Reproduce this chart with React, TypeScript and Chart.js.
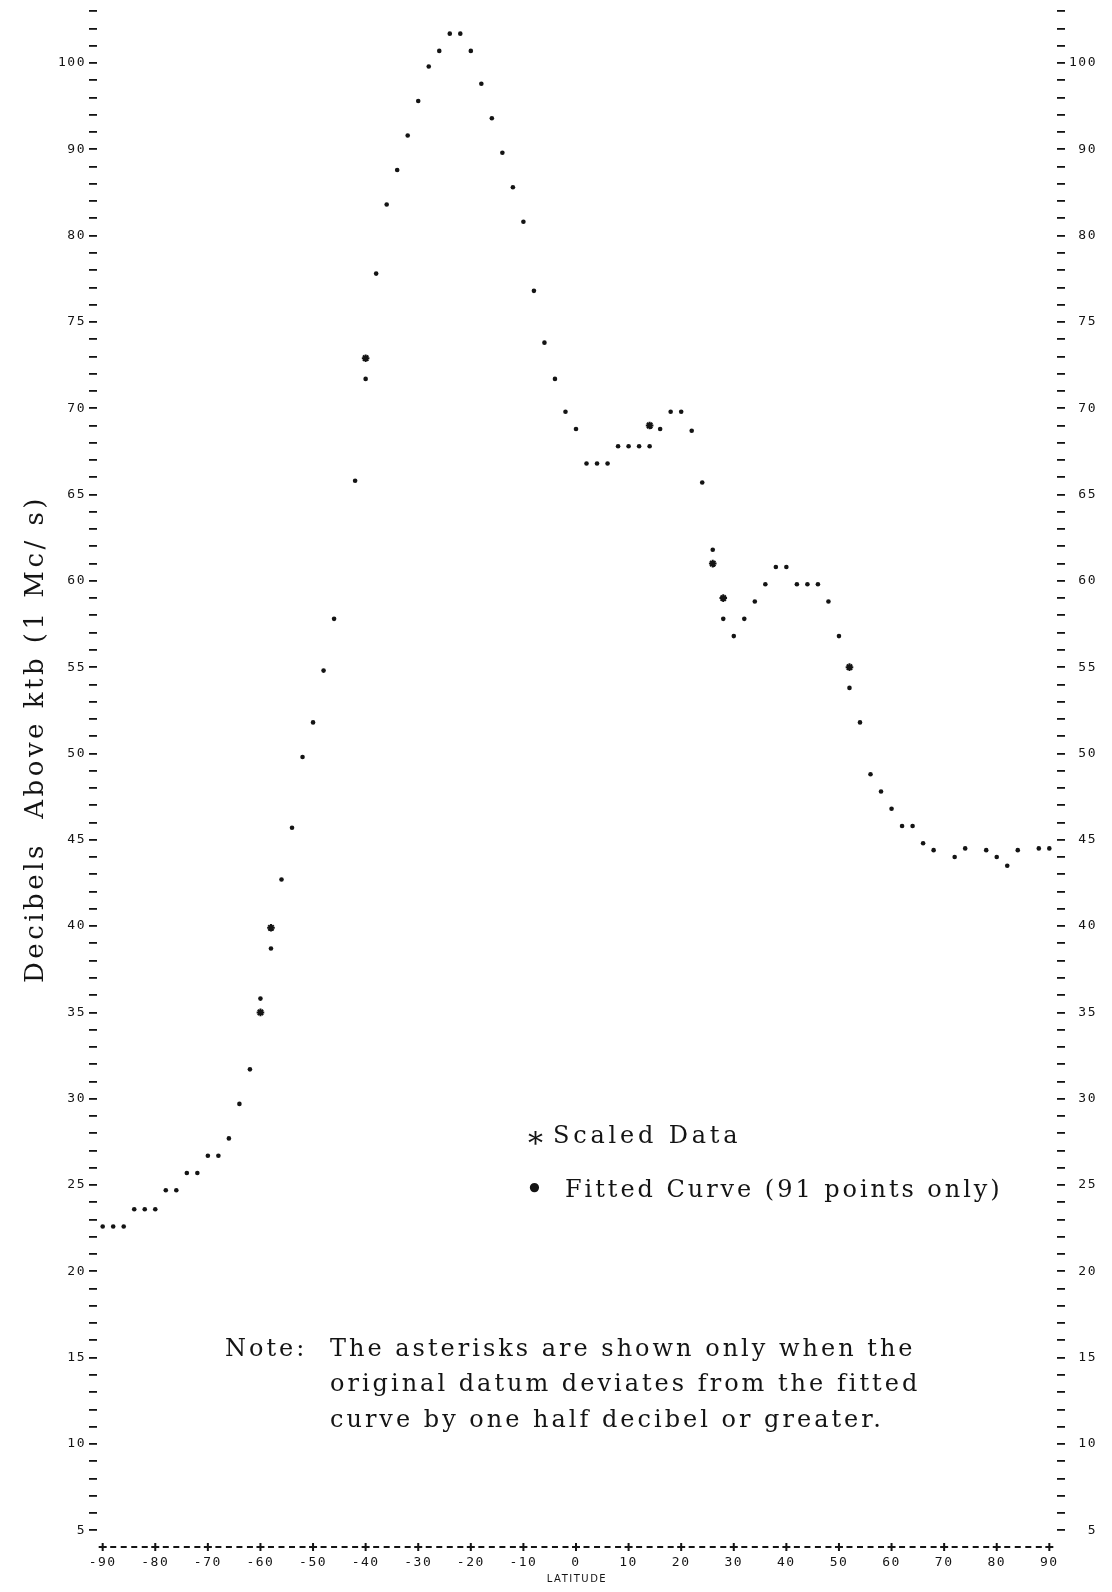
import React, { useEffect, useRef } from 'react';
import { Chart, registerables } from 'chart.js';

Chart.register(...registerables);

// Latitude of each fitted point (every 2 degrees)
const latitude = [
  -90, -88, -86, -84, -82, -80, -78, -76, -74, -72,
  -70, -68, -66, -64, -62, -60, -58, -56, -54, -52,
  -50, -48, -46, -44, -42, -40, -38, -36, -34, -32,
  -30, -28, -26, -24, -22, -20, -18, -16, -14, -12,
  -10, -8, -6, -4, -2, 0, 2, 4, 6, 8,
  10, 12, 14, 16, 18, 20, 22, 24, 26, 28,
  30, 32, 34, 36, 38, 40, 42, 44, 46, 48,
  50, 52, 54, 56, 58, 60, 62, 64, 66, 68,
  70, 72, 74, 76, 78, 80, 82, 84, 86, 88,
  90,
];

// Fitted curve values (null where no dot is printed in the reference)
const fittedCurve: (number | null)[] = [
  22.6, 22.6, 22.6, 23.6, 23.6, 23.6, 24.7, 24.7, 25.7, 25.7,
  26.7, 26.7, 27.7, 29.7, 31.7, 35.8, 38.7, 42.7, 45.7, 49.8,
  51.8, 54.8, 57.8, null, 65.8, 71.7, 77.8, 81.8, 83.8, 85.8,
  87.8, 89.8, 90.7, 91.7, 91.7, 90.7, 88.8, 86.8, 84.8, 82.8,
  80.8, 76.8, 73.8, 71.7, 69.8, 68.8, 66.8, 66.8, 66.8, 67.8,
  67.8, 67.8, 67.8, 68.8, 69.8, 69.8, 68.7, 65.7, 61.8, 57.8,
  56.8, 57.8, 58.8, 59.8, 60.8, 60.8, 59.8, 59.8, 59.8, 58.8,
  56.8, 53.8, 51.8, 48.8, 47.8, 46.8, 45.8, 45.8, 44.8, 44.4,
  null, 44.0, 44.5, null, 44.4, 44.0, 43.5, 44.4, null, 44.5,
  44.5,
];

// Scaled data (asterisks)
const scaledLatitude = [-60, -58, -40, 14, 26, 28, 52];
const scaledData = [35.0, 39.9, 72.9, 69.0, 61.0, 59.0, 55.0];

// Axis labels as printed
const xTickValues = [-90, -80, -70, -60, -50, -40, -30, -20, -10, 0, 10, 20, 30, 40, 50, 60, 70, 80, 90];
const xTickLabels = ['-90', '-80', '-70', '-60', '-50', '-40', '-30', '-20', '-10', '0', '10', '20', '30', '40', '50', '60', '70', '80', '90'];
const yLabelValues = [5, 10, 15, 20, 25, 30, 35, 40, 45, 50, 55, 60, 65, 70, 75, 80, 85, 90];
const yLabelTexts = ['5', '10', '15', '20', '25', '30', '35', '40', '45', '50', '55', '60', '65', '70', '75', '80', '90', '100'];

const INK = '#141414';
const MONO = '"DejaVu Sans Mono", monospace';
const SERIF = '"DejaVu Serif", serif';

const xLabel = (v: number) => {
  const i = xTickValues.indexOf(v);
  return i >= 0 ? xTickLabels[i] : '';
};
const yLabel = (v: number) => {
  const i = yLabelValues.indexOf(v);
  return i >= 0 ? yLabelTexts[i] : '';
};

// Line-printer look: spaced tick characters, dashed "+----+" x axis
const printerAxis = {
  id: 'printerAxis',
  beforeDraw(chart: any) {
    try {
      chart.ctx.letterSpacing = '1.5px';
    } catch (e) {
      /* ignore */
    }
  },
  afterDraw(chart: any) {
    const { ctx, chartArea } = chart;
    try {
      ctx.letterSpacing = '0px';
    } catch (e) {
      /* ignore */
    }
    const x = chart.scales.x;
    const y = chartArea.bottom;
    const first = x.getPixelForValue(xTickValues[0]);
    const last = x.getPixelForValue(xTickValues[xTickValues.length - 1]);
    const period = x.getPixelForValue(2) - x.getPixelForValue(0);
    ctx.save();
    ctx.strokeStyle = INK;
    ctx.lineWidth = 1.8;
    ctx.setLineDash([6, period - 6]);
    ctx.beginPath();
    ctx.moveTo(first - 3, y);
    ctx.lineTo(last + 3, y);
    ctx.stroke();
    ctx.setLineDash([]);
    ctx.lineWidth = 2;
    xTickValues.forEach((v) => {
      const px = x.getPixelForValue(v);
      ctx.beginPath();
      ctx.moveTo(px, y - 4);
      ctx.lineTo(px, y + 4);
      ctx.moveTo(px - 4, y);
      ctx.lineTo(px + 4, y);
      ctx.stroke();
    });
    ctx.restore();
  },
};

const yAxisBase = (position: 'left' | 'right', width: number) => ({
  type: 'linear' as const,
  position,
  min: 4.03,
  max: 93.65,
  border: { display: false },
  grid: {
    display: true,
    drawOnChartArea: false,
    drawTicks: true,
    tickLength: 8,
    color: INK,
    lineWidth: 1.8,
  },
  ticks: {
    stepSize: 1,
    includeBounds: false,
    autoSkip: false,
    padding: 3,
    color: INK,
    font: { family: MONO, size: 13 },
    crossAlign: position === 'right' ? ('far' as const) : ('near' as const),
    callback: (v: any) => yLabel(Number(v)),
  },
  afterFit: (s: any) => {
    s.width = width;
    s.paddingTop = 0;
    s.paddingBottom = 0;
  },
});

const textStyle = (size: number, spacing: number): React.CSSProperties => ({
  position: 'absolute',
  fontFamily: SERIF,
  fontSize: size,
  lineHeight: 1,
  letterSpacing: spacing,
  whiteSpace: 'pre',
  color: INK,
  transform: 'translateY(-50%)',
});

export default function App() {
  const ref = useRef<HTMLCanvasElement>(null);

  useEffect(() => {
    if (!ref.current) return;
    const fittedPoints = latitude
      .map((x, i) => ({ x, y: fittedCurve[i] }))
      .filter((p) => p.y !== null) as { x: number; y: number }[];
    const scaledPoints = scaledLatitude.map((x, i) => ({ x, y: scaledData[i] }));

    const chart = new Chart(ref.current, {
      type: 'scatter',
      data: {
        datasets: [
          {
            label: 'Scaled Data',
            data: scaledPoints,
            pointStyle: 'star',
            pointRadius: 3.8,
            borderColor: INK,
            backgroundColor: INK,
            borderWidth: 2,
            showLine: false,
            order: 0,
          },
          {
            label: 'Fitted Curve (91 points only)',
            data: fittedPoints,
            pointStyle: 'circle',
            pointRadius: 2.3,
            backgroundColor: INK,
            borderWidth: 0,
            showLine: false,
            order: 1,
          },
        ],
      },
      options: {
        responsive: false,
        animation: false,
        devicePixelRatio: 1,
        layout: { autoPadding: false, padding: { left: 0, right: 15, top: 0, bottom: 0 } },
        plugins: {
          legend: { display: false },
          tooltip: { enabled: false },
        },
        scales: {
          x: {
            type: 'linear',
            min: -91.08,
            max: 91.46,
            border: { display: false },
            grid: { display: false, drawTicks: false },
            ticks: {
              stepSize: 10,
              includeBounds: false,
              autoSkip: false,
              maxRotation: 0,
              padding: 8,
              color: INK,
              font: { family: MONO, size: 13 },
              callback: (v: any) => xLabel(Number(v)),
            },
            title: {
              display: true,
              text: 'LATITUDE',
              color: INK,
              font: { family: '"DejaVu Sans", sans-serif', size: 10 },
              padding: { top: 0, bottom: 7 },
            },
            afterFit: (s: any) => {
              s.height = 45;
            },
          },
          y: yAxisBase('left', 97),
          y2: yAxisBase('right', 40),
        } as any,
      },
      plugins: [printerAxis],
    });
    return () => chart.destroy();
  }, []);

  return (
    <div
      style={{
        position: 'absolute',
        left: 0,
        top: 0,
        width: 1112,
        height: 1592,
        background: '#fff',
        overflow: 'hidden',
      }}
    >
      <canvas ref={ref} width={1112} height={1592} style={{ display: 'block' }} />

      <div
        style={{
          position: 'absolute',
          left: 34,
          top: 739,
          fontFamily: SERIF,
          fontSize: 26,
          lineHeight: 1,
          letterSpacing: 3.5,
          whiteSpace: 'pre',
          color: INK,
          transform: 'translate(-50%, -50%) rotate(-90deg)',
        }}
      >
        Decibels  Above ktb (1 Mc/ s)
      </div>

      <div style={{ ...textStyle(30, 0), left: 528, top: 1143 }}>*</div>
      <div style={{ ...textStyle(24, 3.8), left: 553, top: 1135 }}>Scaled Data</div>
      <div style={{ ...textStyle(32, 0), left: 525, top: 1189 }}>•</div>
      <div style={{ ...textStyle(24, 2.95), left: 565, top: 1189 }}>Fitted Curve (91 points only)</div>

      <div style={{ ...textStyle(24, 3), left: 225, top: 1348 }}>Note:</div>
      <div style={{ ...textStyle(24, 3), left: 330, top: 1348 }}>The asterisks are shown only when the</div>
      <div style={{ ...textStyle(24, 3), left: 330, top: 1383 }}>original datum deviates from the fitted</div>
      <div style={{ ...textStyle(24, 3), left: 330, top: 1419 }}>curve by one half decibel or greater.</div>
    </div>
  );
}
